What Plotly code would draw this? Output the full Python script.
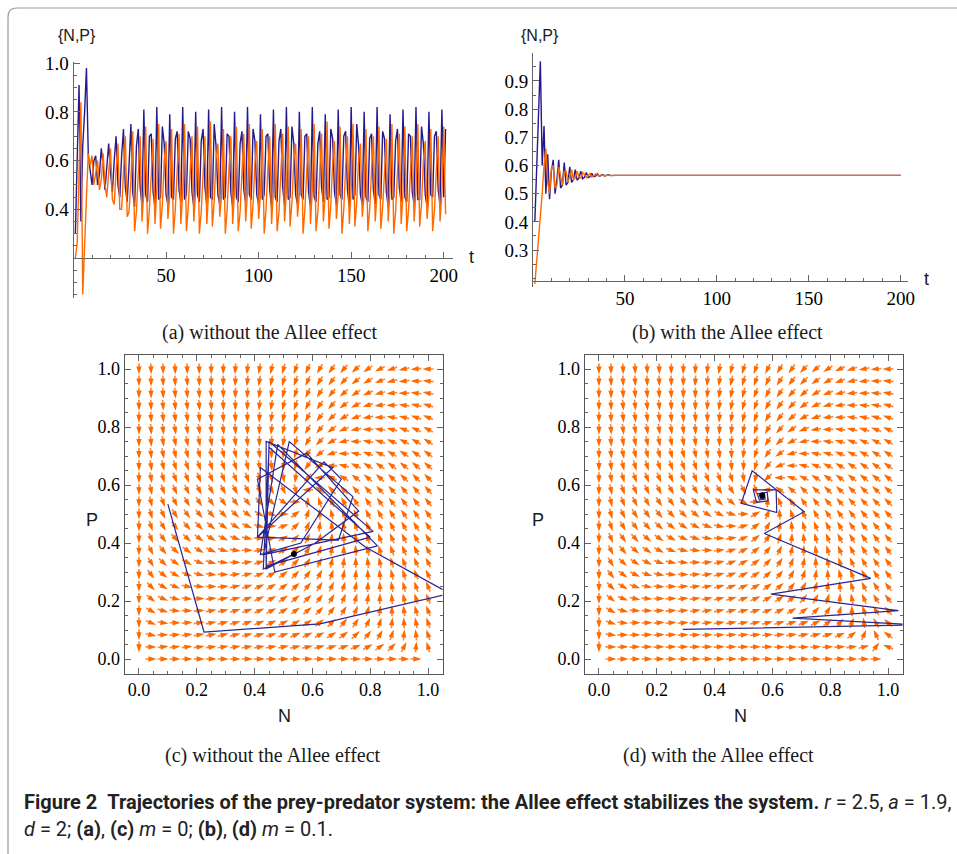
import math
import numpy as np
import plotly.graph_objects as go

# model parameters as printed in the caption
r_val = 2.5
a_val = 1.9
d_val = 2.0
m_vals = [0.0, 0.1]

# (a) m = 0 : prey N and predator P, t = 1..201
N_a = [0.30, 0.62, 0.91, 0.35, 0.66, 0.80, 0.98, 0.62, 0.55, 0.50, 0.60, 0.62,
       0.50, 0.54, 0.65, 0.58, 0.48, 0.56, 0.67, 0.55, 0.47, 0.60, 0.70, 0.50,
       0.45, 0.62, 0.73, 0.49, 0.43, 0.58, 0.75, 0.47,
       0.41, 0.66, 0.73, 0.49, 0.42, 0.81, 0.46,
       0.43, 0.70, 0.71, 0.47, 0.41, 0.82, 0.44,
       0.45, 0.74, 0.67, 0.46, 0.42, 0.79, 0.45,
       0.44, 0.69, 0.72, 0.48, 0.43, 0.82, 0.44,
       0.46, 0.72, 0.69, 0.47, 0.41, 0.80, 0.46,
       0.43, 0.68, 0.73, 0.49, 0.42, 0.81, 0.45,
       0.44, 0.75, 0.66, 0.46, 0.42, 0.82, 0.44,
       0.45, 0.71, 0.70, 0.47, 0.41, 0.80, 0.45,
       0.43, 0.67, 0.72, 0.48, 0.43, 0.82, 0.46,
       0.44, 0.73, 0.68, 0.46, 0.42, 0.79, 0.44,
       0.46, 0.70, 0.71, 0.48, 0.41, 0.81, 0.45,
       0.43, 0.68, 0.73, 0.49, 0.42, 0.82, 0.44,
       0.45, 0.74, 0.67, 0.46, 0.42, 0.80, 0.46,
       0.44, 0.70, 0.71, 0.47, 0.41, 0.82, 0.45,
       0.43, 0.67, 0.72, 0.49, 0.43, 0.79, 0.44,
       0.45, 0.73, 0.69, 0.47, 0.42, 0.81, 0.46,
       0.44, 0.70, 0.72, 0.48, 0.41, 0.82, 0.44,
       0.46, 0.75, 0.66, 0.46, 0.42, 0.80, 0.45,
       0.43, 0.69, 0.71, 0.48, 0.42, 0.82, 0.46,
       0.44, 0.72, 0.69, 0.47, 0.41, 0.79, 0.44,
       0.45, 0.68, 0.73, 0.49, 0.43, 0.81, 0.45,
       0.43, 0.71, 0.70, 0.47, 0.42, 0.82, 0.44,
       0.44, 0.74, 0.67, 0.46, 0.41, 0.80, 0.46,
       0.45, 0.70, 0.72, 0.48, 0.42, 0.81, 0.45,
       0.73]
P_a = [0.20, 0.26, 0.55, 0.84, 0.05, 0.22, 0.45, 0.63, 0.58, 0.62, 0.50, 0.55,
       0.60, 0.48, 0.52, 0.63, 0.50, 0.45, 0.55, 0.65, 0.44, 0.42, 0.56, 0.67,
       0.40, 0.40, 0.55, 0.70, 0.37, 0.39, 0.52, 0.72,
       0.31, 0.39, 0.55, 0.70, 0.35, 0.47, 0.74,
       0.30, 0.40, 0.57, 0.69, 0.34, 0.48, 0.75,
       0.32, 0.42, 0.60, 0.68, 0.36, 0.46, 0.73,
       0.30, 0.40, 0.56, 0.71, 0.34, 0.47, 0.75,
       0.31, 0.41, 0.58, 0.70, 0.35, 0.48, 0.74,
       0.30, 0.39, 0.55, 0.70, 0.34, 0.47, 0.76,
       0.33, 0.43, 0.61, 0.67, 0.37, 0.46, 0.73,
       0.30, 0.40, 0.57, 0.70, 0.34, 0.48, 0.74,
       0.31, 0.39, 0.55, 0.71, 0.35, 0.47, 0.75,
       0.32, 0.42, 0.59, 0.68, 0.36, 0.46, 0.73,
       0.30, 0.40, 0.57, 0.70, 0.34, 0.48, 0.75,
       0.31, 0.39, 0.55, 0.71, 0.35, 0.47, 0.74,
       0.33, 0.43, 0.60, 0.67, 0.37, 0.46, 0.73,
       0.30, 0.40, 0.56, 0.70, 0.34, 0.48, 0.75,
       0.31, 0.39, 0.55, 0.71, 0.35, 0.47, 0.76,
       0.32, 0.42, 0.59, 0.68, 0.36, 0.46, 0.74,
       0.30, 0.40, 0.57, 0.70, 0.34, 0.48, 0.75,
       0.33, 0.43, 0.61, 0.67, 0.37, 0.46, 0.73,
       0.31, 0.40, 0.56, 0.70, 0.35, 0.47, 0.74,
       0.32, 0.41, 0.58, 0.69, 0.35, 0.48, 0.75,
       0.30, 0.39, 0.55, 0.71, 0.34, 0.47, 0.74,
       0.31, 0.40, 0.57, 0.70, 0.35, 0.48, 0.75,
       0.33, 0.42, 0.60, 0.68, 0.36, 0.46, 0.73,
       0.31, 0.40, 0.56, 0.70, 0.35, 0.47, 0.74,
       0.38]

# (b) m = 0.1 : damped towards the equilibrium
t_b = [1, 4, 5, 6, 7, 8, 9, 10, 11, 12, 13, 14, 15, 16, 17, 18, 19, 20, 21, 22,
       23, 24, 25, 26, 27, 28, 29, 30, 31, 32, 33, 34, 35, 36, 37, 38, 39, 40,
       41, 42, 43, 44, 45, 200]
N_b = [0.40, 0.97, 0.60, 0.74, 0.50, 0.64, 0.48, 0.58, 0.62, 0.50, 0.55, 0.62,
       0.52, 0.53, 0.61, 0.53, 0.54, 0.595, 0.54, 0.55, 0.585, 0.548, 0.555,
       0.58, 0.553, 0.558, 0.575, 0.557, 0.56, 0.572, 0.56, 0.562, 0.57, 0.562,
       0.564, 0.568, 0.563, 0.565, 0.567, 0.564, 0.565, 0.566, 0.565, 0.565]
P_b = [0.18, 0.40, 0.50, 0.60, 0.66, 0.54, 0.50, 0.59, 0.60, 0.52, 0.53, 0.595,
       0.56, 0.53, 0.58, 0.58, 0.54, 0.56, 0.585, 0.55, 0.555, 0.58, 0.56,
       0.555, 0.575, 0.568, 0.557, 0.565, 0.572, 0.56, 0.563, 0.57, 0.565,
       0.562, 0.567, 0.566, 0.563, 0.565, 0.566, 0.565, 0.565, 0.565, 0.565,
       0.565]

# (c) phase trajectory, m = 0
N_c = [0.100, 0.225, 0.626, 1.075, 0.783, 0.42, 0.41, 0.69, 0.74, 0.52, 0.43,
       0.81, 0.45, 0.44, 0.61, 0.76, 0.58, 0.41, 0.47, 0.825, 0.48, 0.42, 0.56,
       0.70, 0.64, 0.41, 0.67, 0.44, 0.44, 0.80, 0.45, 0.43, 0.536]
P_c = [0.534, 0.093, 0.121, 0.226, 0.386, 0.66, 0.42, 0.41, 0.56, 0.75, 0.36,
       0.44, 0.75, 0.31, 0.40, 0.51, 0.71, 0.62, 0.30, 0.39, 0.74, 0.36, 0.40,
       0.62, 0.68, 0.42, 0.66, 0.75, 0.32, 0.42, 0.73, 0.31, 0.362]

# (d) phase trajectory, m = 0.1
N_d = [0.29, 1.10, 0.670, 1.036, 0.595, 0.940, 0.572, 0.710, 0.530, 0.492,
       0.615, 0.613, 0.534, 0.545, 0.585, 0.582, 0.548, 0.555, 0.575, 0.572,
       0.556, 0.560, 0.570, 0.568, 0.561, 0.563, 0.567, 0.565]
P_d = [0.102, 0.118, 0.141, 0.167, 0.224, 0.278, 0.433, 0.508, 0.649, 0.537,
       0.505, 0.583, 0.583, 0.540, 0.545, 0.575, 0.570, 0.548, 0.552, 0.570,
       0.566, 0.553, 0.556, 0.567, 0.565, 0.558, 0.560, 0.564]

grid = np.linspace(0, 1, 25)

BLUE = '#25198c'
ORANGE = '#ff6a00'
SERIF = 'Liberation Serif, Times New Roman, serif'
SANS = 'Liberation Sans, Arial, sans-serif'
W, H = 957, 854


def px(x):
    return x / W


def py(y):
    return 1 - y / H


def arrow_traces(m, xa, ya):
    N, P = np.meshgrid(grid, grid)
    with np.errstate(all='ignore'):
        dN = N * np.exp(r_val * (1 - N) - a_val * P) - N
        allee = P / (P + m) if m > 0 else 1.0
        dP = P * np.exp(d_val * (1 - P / N) * allee) - P
    L = 0.038
    sx, sy, hx, hy, ang = [], [], [], [], []
    for n, p, u, v in zip(N.ravel(), P.ravel(), dN.ravel(), dP.ravel()):
        mag = math.hypot(u, v)
        if not np.isfinite(mag) or mag < 1e-9:
            continue
        ux, uy = u / mag, v / mag
        x0, y0 = n - 0.5 * L * ux, p - 0.5 * L * uy
        x1, y1 = n + 0.5 * L * ux, p + 0.5 * L * uy
        sx += [x0, x1 - 0.01 * ux, None]
        sy += [y0, y1 - 0.01 * uy, None]
        hx.append(x1)
        hy.append(y1)
        ang.append(math.degrees(math.atan2(ux, uy)))
    shafts = go.Scatter(x=sx, y=sy, mode='lines', xaxis=xa, yaxis=ya,
                        line=dict(color='rgba(255,115,25,0.85)', width=1.7),
                        hoverinfo='skip', showlegend=False)
    heads = go.Scatter(x=hx, y=hy, mode='markers', xaxis=xa, yaxis=ya,
                       marker=dict(symbol='arrow', size=8.5, angle=ang,
                                   color=ORANGE, line=dict(width=0)),
                       hoverinfo='skip', showlegend=False)
    return [shafts, heads]


fig = go.Figure()

# (a)
t_a = list(range(1, len(N_a) + 1))
fig.add_trace(go.Scatter(x=t_a, y=N_a, mode='lines', line=dict(color=BLUE, width=1.4),
                         xaxis='x', yaxis='y', showlegend=False))
fig.add_trace(go.Scatter(x=t_a, y=P_a, mode='lines', line=dict(color=ORANGE, width=1.4),
                         xaxis='x', yaxis='y', showlegend=False))
# (b)
fig.add_trace(go.Scatter(x=t_b, y=N_b, mode='lines', line=dict(color=BLUE, width=1.4),
                         xaxis='x2', yaxis='y2', showlegend=False))
fig.add_trace(go.Scatter(x=t_b, y=P_b, mode='lines', line=dict(color=ORANGE, width=1.4),
                         xaxis='x2', yaxis='y2', showlegend=False))

# (c) and (d)
for m, xa, ya, Nt, Pt in [(m_vals[0], 'x3', 'y3', N_c, P_c), (m_vals[1], 'x4', 'y4', N_d, P_d)]:
    for tr in arrow_traces(m, xa, ya):
        fig.add_trace(tr)
    fig.add_trace(go.Scatter(x=Nt, y=Pt, mode='lines', xaxis=xa, yaxis=ya,
                             line=dict(color='#2b2790', width=1.2), showlegend=False))
    fig.add_trace(go.Scatter(x=[Nt[-1]], y=[Pt[-1]], mode='markers', xaxis=xa, yaxis=ya,
                             marker=dict(color='black', size=6), showlegend=False))

axis_common = dict(showgrid=False, zeroline=False, showline=True, linecolor='#666',
                   linewidth=1, ticks='inside', tickcolor='#666', ticklen=6,
                   automargin=False,
                   tickfont=dict(family=SERIF, size=19, color='black'))


def ts_axes(x0, x1, ytop, ybot, xmax, yr, ycross, yticks, ylabels):
    xax = dict(axis_common, domain=[px(x0), px(x1)], range=[0, xmax], anchor='free',
               position=py(ycross), tickmode='array', tickvals=[50, 100, 150, 200],
               ticktext=['50', '100', '150', '200'],
               minor=dict(dtick=10, tick0=0, ticks='inside', ticklen=3, tickcolor='#666'))
    yax = dict(axis_common, domain=[py(ybot), py(ytop)], range=yr, tickmode='array',
               tickvals=yticks, ticktext=ylabels,
               minor=dict(dtick=0.05, tick0=0, ticks='inside', ticklen=3, tickcolor='#666'))
    return xax, yax


xa1, ya1 = ts_axes(73.5, 453, 61.7, 298, 205, [0.036, 1.006], 258,
                   [0.4, 0.6, 0.8, 1.0], ['0.4', '0.6', '0.8', '1.0'])
xa2, ya2 = ts_axes(533, 908, 53, 287, 204, [0.169, 0.999], 281,
                   [0.3, 0.4, 0.5, 0.6, 0.7, 0.8, 0.9],
                   ['0.3', '0.4', '0.5', '0.6', '0.7', '0.8', '0.9'])
ya1['anchor'] = 'x'
ya2['anchor'] = 'x2'

ph_ticks = [0, 0.2, 0.4, 0.6, 0.8, 1.0]
ph_labels = ['0.0', '0.2', '0.4', '0.6', '0.8', '1.0']


def ph_axis(dom, anchor):
    return dict(axis_common, domain=dom, range=[-0.05, 1.05], anchor=anchor, mirror='ticks',
                tickmode='array', tickvals=ph_ticks, ticktext=ph_labels, ticklen=6,
                linecolor='#555', tickfont=dict(family=SERIF, size=18, color='black'),
                minor=dict(dtick=0.05, tick0=0, ticks='inside', ticklen=3, tickcolor='#666'))


ydom = [py(673.5), py(354.5)]
fig.update_layout(
    width=W, height=H, margin=dict(l=0, r=0, t=0, b=0, autoexpand=False),
    paper_bgcolor='white', plot_bgcolor='rgba(0,0,0,0)',
    xaxis=xa1, yaxis=ya1, xaxis2=xa2, yaxis2=ya2,
    xaxis3=ph_axis([px(124.5), px(442.5)], 'y3'), yaxis3=ph_axis(ydom, 'x3'),
    xaxis4=ph_axis([px(584.5), px(902.5)], 'y4'), yaxis4=ph_axis(ydom, 'x4'),
)

notes = [
    ('{N,P}', 77, 35, SANS, 16, 'center'),
    ('t', 471, 257, SANS, 18, 'center'),
    ('{N,P}', 540, 35, SANS, 16, 'center'),
    ('t', 926, 279, SANS, 18, 'center'),
    ('P', 92, 520, SANS, 18, 'center'),
    ('N', 284, 716, SANS, 18, 'center'),
    ('P', 538, 520, SANS, 18, 'center'),
    ('N', 740, 716, SANS, 18, 'center'),
    ('(a) without the Allee effect', 270, 332, SERIF, 20, 'center'),
    ('(b) with the Allee effect', 727, 332, SERIF, 20, 'center'),
    ('(c) without the Allee effect', 273, 755, SERIF, 20, 'center'),
    ('(d) with the Allee effect', 718, 755, SERIF, 20, 'center'),
]
for txt, x, y, fam, size, anc in notes:
    fig.add_annotation(text=txt, x=px(x), y=py(y), xref='paper', yref='paper',
                       showarrow=False, xanchor=anc, yanchor='middle',
                       font=dict(family=fam, size=size, color='#1a1a1a'))

CAP = 'Roboto, Arial, sans-serif'
fig.add_annotation(
    text='<b>Figure 2\u00a0\u00a0Trajectories of the prey-predator system: the Allee effect '
         'stabilizes the system.</b> <i>r</i> = 2.5, <i>a</i> = 1.9,',
    x=px(22), y=py(802), xref='paper', yref='paper', showarrow=False,
    xanchor='left', yanchor='middle', font=dict(family=CAP, size=20, color='#222'))
fig.add_annotation(
    text='<i>d</i> = 2; <b>(a)</b>, <b>(c)</b> <i>m</i> = 0; <b>(b)</b>, <b>(d)</b> <i>m</i> = 0.1.',
    x=px(22), y=py(829), xref='paper', yref='paper', showarrow=False,
    xanchor='left', yanchor='middle', font=dict(family=CAP, size=20, color='#222'))

# outer frame of the figure panel
fig.add_shape(type='path', xref='paper', yref='paper',
              path=f'M {px(8)} 0 L {px(8)} {py(17)} Q {px(8)} {py(8)} {px(17)} {py(8)} L 1 {py(8)}',
              line=dict(color='#9a9a9a', width=1.2))

fig.write_html('out.html', config={'displayModeBar': False},
               post_script="document.body.style.margin='0';document.body.style.overflow='hidden';")
